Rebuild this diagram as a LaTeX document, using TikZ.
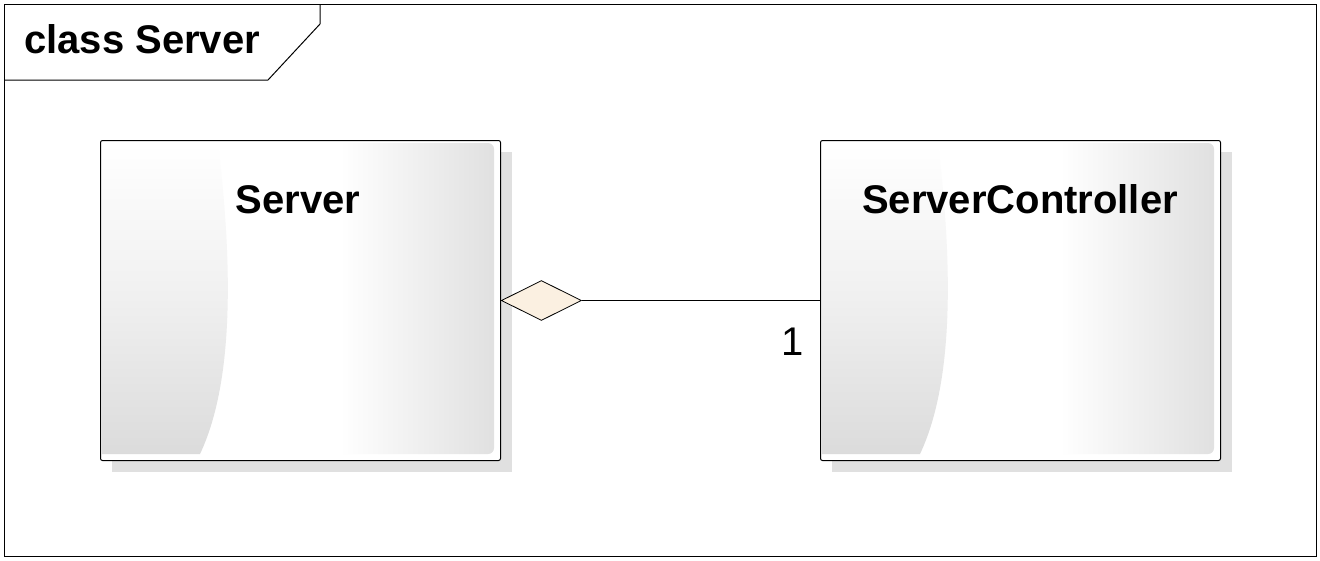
\documentclass[tikz,border=0pt]{standalone}
\usepackage{fontspec}
\setmainfont{Liberation Sans}
\usetikzlibrary{shapes.geometric}
\newcommand\umlbody[2]{%
  % #1 = x0, #2 = y0 (top-left of class box, pixels)
  \fill[shadowgray] (#1+12,#2+12) rectangle (#1+412,#2+332);
  \fill[white] (#1,#2) rectangle (#1+400,#2+320);
  \shade[top color=white, bottom color=black!14, middle color=black!6]
    (#1+2,#2+3) -- (#1+118,#2+3) .. controls (#1+132,#2+120) and (#1+135,#2+240) .. (#1+100,#2+314) -- (#1+2,#2+314) -- cycle;
  \shade[left color=white, right color=black!12, rounded corners=6pt]
    (#1+240,#2+3) -- (#1+394,#2+3) -- (#1+394,#2+314) [sharp corners]-- (#1+240,#2+314) -- cycle;
}
\tikzset{
  shadowgray/.style={fill=black!12},
  classbox/.style={draw=black, line width=1pt, rounded corners=2pt, minimum width=400pt, minimum height=320pt, inner sep=0pt, anchor=north west},
  classname/.style={font=\fontsize{40}{47}\selectfont\bfseries, anchor=base, inner sep=0pt},
  agg/.style={diamond, draw=black, line width=0.8pt, fill=diamondfill, minimum width=80pt, minimum height=40pt, inner sep=0pt, aspect=2, anchor=west},
  mult/.style={font=\fontsize{40}{47}\selectfont, anchor=base, inner sep=0pt},
  frameline/.style={draw=black, line width=1pt}
}
\definecolor{diamondfill}{HTML}{FBF0E1}
\begin{document}
\begin{tikzpicture}[x=1pt,y=-1pt]
\useasboundingbox (0,0) rectangle (1320,560);
\fill[white] (0,0) rectangle (1320,560);
% frame
\draw[frameline] (4,4) rectangle (1316,556);
\draw[frameline] (4,80) -- (268,80) -- (320,24) -- (320,4);
\node[anchor=base west, inner sep=0pt, font=\fontsize{40}{47}\selectfont\bfseries] (title) at (24,53) {class Server};
% class bodies
\umlbody{100}{140}
\umlbody{820}{140}
\node[classbox] (server) at (100,140) {};
\node[classbox] (ctrl) at (820,140) {};
\node[classname] (servername) at (298,213) {Server};
\node[classname] (ctrlname) at (1020,213) {ServerController};
% aggregation
\node[agg] (aggd) at (server.east) {};
\draw[line width=1pt] (aggd.east) -- (ctrl.west);
\node[mult] (m1) at (793,355) {1};
\end{tikzpicture}
\end{document}
